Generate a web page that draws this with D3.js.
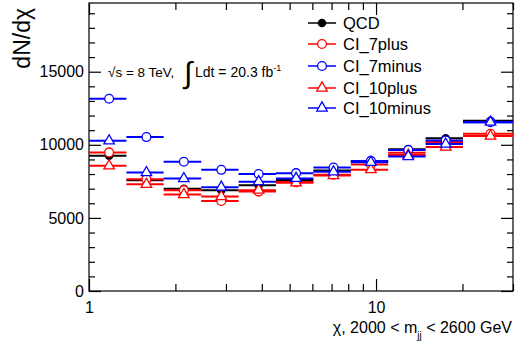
<!DOCTYPE html>
<html><head><meta charset="utf-8">
<script src="https://cdn.jsdelivr.net/npm/d3@7"></script>
<style>
body{margin:0;background:#fff;}
svg{display:block;font-family:"Liberation Sans",Arial,Helvetica,sans-serif;}
</style></head>
<body><svg id="c" width="515" height="350"></svg>
<script>
const chiEdges = [1, 1.35, 1.82, 2.46, 3.32, 4.48, 6.05, 8.17, 11.02, 14.88, 20.09, 30];
const QCD        = [9250, 7570, 6990, 6900, 7240, 7600, 8250, 8850, 9700, 10450, 11650];
const CI_7plus   = [9480, 7650, 6900, 6160, 6800, 7450, 7950, 8650, 9450, 10200, 10750];
const CI_7minus  = [13150, 10530, 8840, 8290, 8000, 8060, 8450, 8900, 9650, 10300, 11550];
const CI_10plus  = [8560, 7300, 6600, 6460, 6900, 7400, 7900, 8300, 9300, 9850, 10600];
const CI_10minus = [10270, 8100, 7690, 7100, 7480, 7700, 8150, 8800, 9200, 10050, 11550];
const seriesNames = ["QCD", "CI_7plus", "CI_7minus", "CI_10plus", "CI_10minus"];
const yMajorTicks = [0, 5000, 10000, 15000];
const xMajorTicks = [1, 10];
const xMinorTicks = [2,3,4,5,6,7,8,9,20,30];

const series = [
  {name:"QCD", values:QCD, color:"#000", shape:"circle", fill:true},
  {name:"CI_7plus", values:CI_7plus, color:"#ff0000", shape:"circle", fill:false},
  {name:"CI_7minus", values:CI_7minus, color:"#0000ff", shape:"circle", fill:false},
  {name:"CI_10plus", values:CI_10plus, color:"#ff0000", shape:"triangle", fill:false},
  {name:"CI_10minus", values:CI_10minus, color:"#0000ff", shape:"triangle", fill:false}
];

const L=89, R=513, T=3, B=291;
const svg = d3.select("#c");
const x = d3.scaleLog().domain([1,30]).range([L,R]);
const y = d3.scaleLinear().domain([0,19700]).range([B,T]);
const yMinor = d3.range(0,19701,1000).filter(v=>v%5000!==0);

svg.append("rect").attr("x",L).attr("y",T).attr("width",R-L).attr("height",B-T)
  .attr("fill","none").attr("stroke","#000").attr("stroke-width",1.2);

function styleAxis(g){ g.select(".domain").remove(); g.selectAll("line").attr("stroke","#000").attr("stroke-width",1.2); }
function styleText(g){ g.selectAll("text").attr("font-size",16).attr("fill","#000").attr("font-family","Liberation Sans, Arial, sans-serif"); }

svg.append("g").attr("transform",`translate(${L},0)`)
  .call(d3.axisLeft(y).tickValues(yMajorTicks).tickSize(-12).tickPadding(5).tickFormat(d3.format("d")))
  .call(styleAxis).call(styleText);
svg.append("g").attr("transform",`translate(${L},0)`)
  .call(d3.axisLeft(y).tickValues(yMinor).tickSize(-6).tickFormat(""))
  .call(styleAxis);
svg.append("g").attr("transform",`translate(${R},0)`)
  .call(d3.axisRight(y).tickValues(yMajorTicks).tickSize(-12).tickFormat(""))
  .call(styleAxis);
svg.append("g").attr("transform",`translate(${R},0)`)
  .call(d3.axisRight(y).tickValues(yMinor).tickSize(-6).tickFormat(""))
  .call(styleAxis);
svg.append("g").attr("transform",`translate(0,${B})`)
  .call(d3.axisBottom(x).tickValues(xMajorTicks).tickSize(-12).tickPadding(11).tickFormat(d3.format("d")))
  .call(styleAxis).call(styleText);
svg.append("g").attr("transform",`translate(0,${B})`)
  .call(d3.axisBottom(x).tickValues(xMinorTicks).tickSize(-7).tickFormat(""))
  .call(styleAxis);
svg.append("g").attr("transform",`translate(0,${T})`)
  .call(d3.axisTop(x).tickValues(xMajorTicks).tickSize(-12).tickFormat(""))
  .call(styleAxis);
svg.append("g").attr("transform",`translate(0,${T})`)
  .call(d3.axisTop(x).tickValues(xMinorTicks).tickSize(-7).tickFormat(""))
  .call(styleAxis);

svg.append("text").attr("transform","translate(30,8) rotate(-90)").attr("text-anchor","end")
  .attr("font-size",23).text("dN/dχ");
const xt = svg.append("text").attr("x",512).attr("y",333).attr("text-anchor","end").attr("font-size",16);
xt.append("tspan").text("χ, 2000 < m");
xt.append("tspan").attr("dy",6).attr("font-size",10).text("jj");
xt.append("tspan").attr("dy",-6).text(" < 2600 GeV");

const an = svg.append("g").attr("font-size",13.5);
an.append("text").attr("x",108).attr("y",77).text("√s = 8 TeV,");
an.append("text").attr("x",184).attr("y",83).attr("font-size",30).attr("font-weight","300").text("∫");
const lt = an.append("text").attr("x",195).attr("y",77).attr("font-size",14);
lt.append("tspan").text("Ldt = 20.3 fb");
lt.append("tspan").attr("dy",-6).attr("font-size",9).text("-1");

const bins = chiEdges.slice(0,-1).map((lo,i)=>({lo, hi:chiEdges[i+1], c:(lo+chiEdges[i+1])/2}));
function marker(g, s, cx, cy){
  if(s.shape==="circle"){
    g.append("circle").attr("cx",cx).attr("cy",cy).attr("r",s.fill?3.6:4.4)
      .attr("fill",s.fill?s.color:"#fff").attr("stroke",s.color).attr("stroke-width",1.3);
  } else {
    g.append("path").attr("d",d3.symbol(d3.symbolTriangle,48)())
      .attr("transform",`translate(${cx},${cy})`)
      .attr("fill","#fff").attr("stroke",s.color).attr("stroke-width",1.3);
  }
}
series.forEach(s=>{
  const g = svg.append("g");
  bins.forEach((b,i)=>{
    g.append("line").attr("x1",x(b.lo)).attr("x2",x(b.hi)).attr("y1",y(s.values[i])).attr("y2",y(s.values[i]))
      .attr("stroke",s.color).attr("stroke-width",2);
  });
  bins.forEach((b,i)=>marker(g,s,x(b.c),y(s.values[i])));
});

const legY = [23, 44, 66, 88, 108];
series.forEach((s,i)=>{
  const g = svg.append("g");
  g.append("line").attr("x1",308).attr("x2",336).attr("y1",legY[i]).attr("y2",legY[i]).attr("stroke",s.color).attr("stroke-width",1.5);
  marker(g,s,322,legY[i]);
  g.append("text").attr("x",343).attr("y",legY[i]+6).attr("font-size",16.5).text(seriesNames[i]);
});
</script></body></html>
